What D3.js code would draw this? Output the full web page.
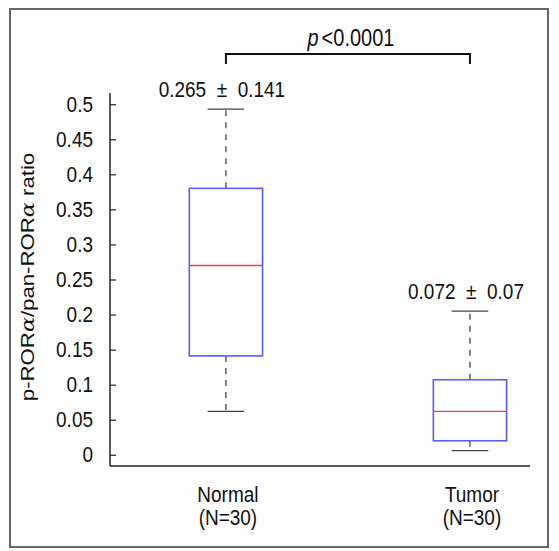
<!DOCTYPE html>
<html><head><meta charset="utf-8">
<script src="https://cdn.jsdelivr.net/npm/d3@7"></script>
<style>body{margin:0;background:#fff;} text{font-family:"Liberation Sans",Arial,Helvetica,sans-serif;fill:#111;}</style>
</head><body>
<svg id="c" width="559" height="551"></svg>
<script>
const categories = ["Normal", "Tumor"];
const catLabels2 = ["(N=30)", "(N=30)"];
const whiskerLow = [0.062, 0.006];
const q1 = [0.141, 0.020];
const median = [0.270, 0.062];
const q3 = [0.380, 0.107];
const whiskerHigh = [0.493, 0.205];
const meanSd = ["0.265 \u00B1 0.141", "0.072 \u00B1 0.07"];
const yTicks = [0, 0.05, 0.1, 0.15, 0.2, 0.25, 0.3, 0.35, 0.4, 0.45, 0.5];
const pLabel = "<0.0001";

const SY = 1.17; // vertical stretch of the text in the reference

const svg = d3.select("#c");
svg.append("rect").attr("x",10).attr("y",9).attr("width",538).attr("height",538)
  .attr("fill","none").attr("stroke","#666").attr("stroke-width",2);

const y = d3.scaleLinear().domain([-0.016, 0.516]).range([466, 93]);
const x = d3.scaleLinear().domain([0.525, 2.246]).range([110, 530]);
const pos = i => x(i + 1);
const boxW = x(1.3) - x(1);
const capW = x(1.15) - x(1);

function label(parent, tx, ty, size) {
  return parent.append("g").attr("transform", `translate(${tx},${ty}) scale(1,${SY})`)
    .append("text").attr("text-anchor","middle").attr("font-size", size);
}

// axes
const yAxis = d3.axisLeft(y).tickValues(yTicks).tickSize(-6).tickPadding(17)
  .tickFormat(d => d3.format("")(+d.toFixed(2)));
const gy = svg.append("g").attr("transform","translate(110,0)").call(yAxis);
gy.select(".domain").remove();
gy.selectAll(".tick line").attr("stroke","#222").attr("stroke-width",1.2);
gy.selectAll(".tick text").attr("font-size",19).attr("fill","#111")
  .attr("font-family","'Liberation Sans',Arial,sans-serif")
  .attr("transform",`scale(1,${SY})`);
svg.append("line").attr("x1",110).attr("x2",110).attr("y1",y.range()[1]).attr("y2",y.range()[0])
  .attr("stroke","#222").attr("stroke-width",1.5);
svg.append("line").attr("x1",110).attr("x2",530).attr("y1",466).attr("y2",466)
  .attr("stroke","#222").attr("stroke-width",1.5);

// y title
svg.append("text").attr("transform",`translate(34,277) rotate(-90) scale(${SY},1)`)
  .attr("text-anchor","middle").attr("font-size",19)
  .call(t => {
    t.append("tspan").text("p-ROR");
    t.append("tspan").attr("font-style","italic").attr("font-family","'DejaVu Serif',serif").text("\u03B1");
    t.append("tspan").text("/pan-ROR");
    t.append("tspan").attr("font-style","italic").attr("font-family","'DejaVu Serif',serif").text("\u03B1");
    t.append("tspan").text("  ratio");
  });

// boxes
const g = svg.append("g");
categories.forEach((c, i) => {
  const cx = pos(i);
  g.append("line").attr("x1",cx).attr("x2",cx).attr("y1",y(q3[i])).attr("y2",y(whiskerHigh[i]))
    .attr("stroke","#444").attr("stroke-width",1.3).attr("stroke-dasharray","6,6");
  g.append("line").attr("x1",cx).attr("x2",cx).attr("y1",y(q1[i])).attr("y2",y(whiskerLow[i]))
    .attr("stroke","#444").attr("stroke-width",1.3).attr("stroke-dasharray","6,6");
  [whiskerHigh[i], whiskerLow[i]].forEach(v => {
    g.append("line").attr("x1",cx-capW/2).attr("x2",cx+capW/2).attr("y1",y(v)).attr("y2",y(v))
      .attr("stroke","#444").attr("stroke-width",1.3);
  });
  g.append("rect").attr("x",cx-boxW/2).attr("width",boxW)
    .attr("y",y(q3[i])).attr("height",y(q1[i])-y(q3[i]))
    .attr("fill","none").attr("stroke","#5b5bff").attr("stroke-width",1.6);
  g.append("line").attr("x1",cx-boxW/2).attr("x2",cx+boxW/2).attr("y1",y(median[i])).attr("y2",y(median[i]))
    .attr("stroke","#e04848").attr("stroke-width",1.3);
  label(g, cx-4, y(whiskerHigh[i])-12, 19).attr("xml:space","preserve")
    .text(meanSd[i].replace(" \u00B1 ", "  \u00B1  "));
  label(g, cx+2, 502, 19).text(c);
  label(g, cx+2, 525, 19).text(catLabels2[i]);
});

// significance bracket
const by = 54;
svg.append("path").attr("d",`M${pos(0)},${by+10}V${by}H${pos(1)}V${by+10}`)
  .attr("fill","none").attr("stroke","#111").attr("stroke-width",2);
label(svg, (pos(0)+pos(1))/2+3, by-8, 20)
  .call(t => {
    t.append("tspan").attr("font-style","italic").text("p");
    t.append("tspan").attr("dx",3).text(pLabel);
  });
</script>
</body></html>
